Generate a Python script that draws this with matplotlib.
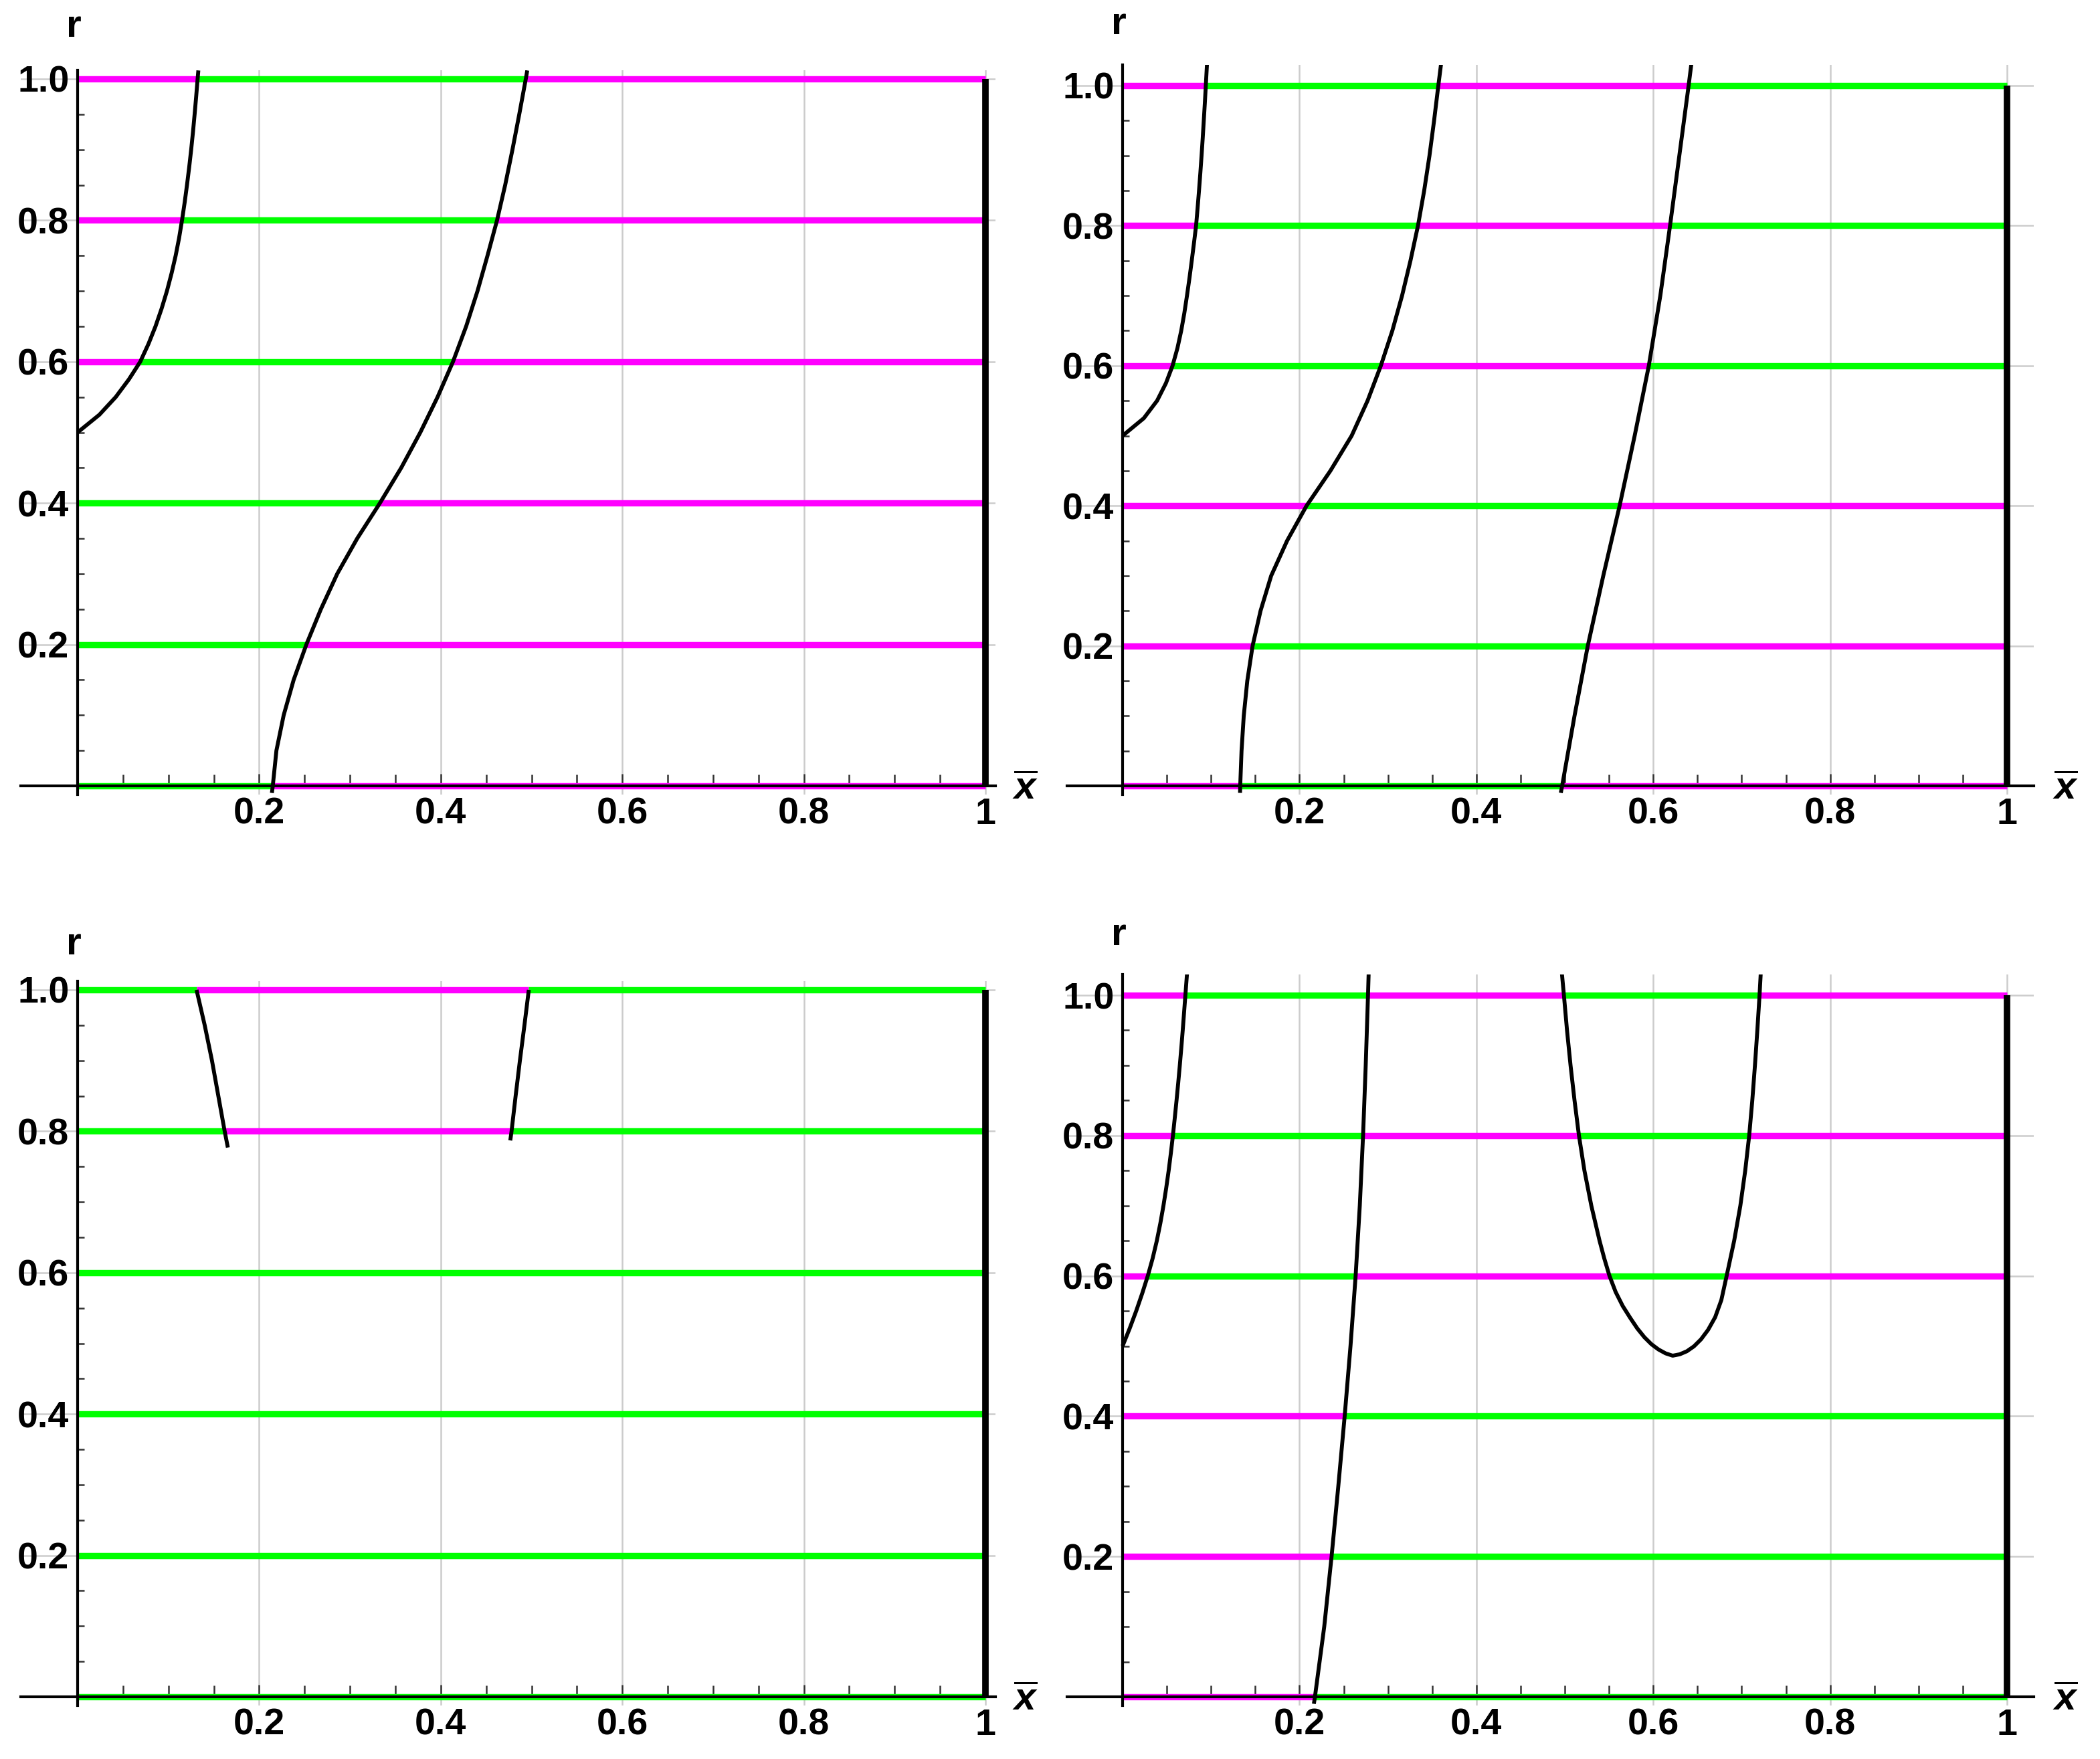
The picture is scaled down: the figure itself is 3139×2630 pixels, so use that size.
import numpy as np
import matplotlib
matplotlib.use("Agg")
import matplotlib.pyplot as plt
from matplotlib.ticker import FixedLocator

FONT = ['Liberation Sans', 'DejaVu Sans']
plt.rcParams['font.family'] = FONT
plt.rcParams['mathtext.fontset'] = 'custom'
plt.rcParams['mathtext.it'] = 'Liberation Sans:italic:bold'
plt.rcParams['mathtext.rm'] = 'Liberation Sans:bold'

MAGENTA = '#ff00ff'
GREEN = '#00ff00'
COLORS = {'m': MAGENTA, 'g': GREEN}

LEVELS = [0.0, 0.2, 0.4, 0.6, 0.8, 1.0]
X_TICKS = [0.2, 0.4, 0.6, 0.8, 1.0]
X_LABELS = ['0.2', '0.4', '0.6', '0.8', '1']
Y_TICKS = [0.2, 0.4, 0.6, 0.8, 1.0]
Y_LABELS = ['0.2', '0.4', '0.6', '0.8', '1.0']

# --- top left ---
TL_BREAKS = [[0.215], [0.252], [0.333], [0.069, 0.4135], [0.115, 0.462], [0.1322, 0.4937]]
TL_FIRST = ['g', 'g', 'g', 'm', 'm', 'm']
TL_C1_X = [0.0, 0.024, 0.042, 0.0565, 0.069, 0.078, 0.0858, 0.0925, 0.0984, 0.1035, 0.108,
           0.1118, 0.115, 0.1179, 0.1205, 0.1229, 0.1251, 0.1271, 0.1289, 0.1306, 0.1322, 0.133]
TL_C1_Y = [0.5, 0.525, 0.55, 0.575, 0.6, 0.625, 0.65, 0.675, 0.7, 0.725, 0.75,
           0.775, 0.8, 0.825, 0.85, 0.875, 0.9, 0.925, 0.95, 0.975, 1.0, 1.012]
TL_C2_X = [0.214, 0.215, 0.219, 0.227, 0.238, 0.252, 0.268, 0.286, 0.308, 0.333, 0.3565, 0.3775,
           0.3965, 0.4135, 0.428, 0.4405, 0.4515, 0.462, 0.471, 0.479, 0.4865, 0.4937, 0.4953]
TL_C2_Y = [-0.01, 0.0, 0.05, 0.1, 0.15, 0.2, 0.25, 0.3, 0.35, 0.4, 0.45, 0.5,
           0.55, 0.6, 0.65, 0.7, 0.75, 0.8, 0.85, 0.9, 0.95, 1.0, 1.012]

# --- top right ---
TR_BREAKS = [[0.133, 0.497], [0.147, 0.526], [0.208, 0.562], [0.0565, 0.292, 0.595],
             [0.0831, 0.334, 0.619], [0.0941, 0.357, 0.640]]
TR_FIRST = ['m', 'm', 'm', 'm', 'm', 'm']
TR_CA_X = [0.0, 0.024, 0.039, 0.049, 0.0565, 0.062, 0.0663, 0.0698, 0.0728, 0.0756, 0.0782,
           0.0807, 0.0831, 0.0848, 0.0864, 0.0879, 0.0893, 0.0906, 0.0918, 0.093, 0.0941, 0.0954]
TR_CA_Y = [0.5, 0.525, 0.55, 0.575, 0.6, 0.625, 0.65, 0.675, 0.7, 0.725, 0.75,
           0.775, 0.8, 0.825, 0.85, 0.875, 0.9, 0.925, 0.95, 0.975, 1.0, 1.03]
TR_CB_X = [0.1328, 0.133, 0.1345, 0.137, 0.141, 0.147, 0.156, 0.168, 0.186, 0.208, 0.235, 0.259,
           0.277, 0.292, 0.305, 0.316, 0.3255, 0.334, 0.341, 0.347, 0.3522, 0.357, 0.360]
TR_CB_Y = [-0.01, 0.0, 0.05, 0.1, 0.15, 0.2, 0.25, 0.3, 0.35, 0.4, 0.45, 0.5,
           0.55, 0.6, 0.65, 0.7, 0.75, 0.8, 0.85, 0.9, 0.95, 1.0, 1.03]
TR_CC_X = [0.4955, 0.497, 0.511, 0.526, 0.5435, 0.562, 0.579, 0.595, 0.608, 0.619, 0.6295, 0.640, 0.643]
TR_CC_Y = [-0.01, 0.0, 0.1, 0.2, 0.3, 0.4, 0.5, 0.6, 0.7, 0.8, 0.9, 1.0, 1.03]

# --- bottom left ---
BL_BREAKS = [[], [], [], [], [0.162, 0.478], [0.131, 0.497]]
BL_FIRST = ['g', 'g', 'g', 'g', 'g', 'g']
BL_C1_X = [0.131, 0.140, 0.148, 0.155, 0.162, 0.1655]
BL_C1_Y = [1.0, 0.95, 0.9, 0.85, 0.8, 0.777]
BL_C2_X = [0.497, 0.4922, 0.4872, 0.4825, 0.478, 0.4766]
BL_C2_Y = [1.0, 0.95, 0.9, 0.85, 0.8, 0.787]

# --- bottom right ---
BR_BREAKS = [[0.2175], [0.2363], [0.2511], [0.0285, 0.2635, 0.5505, 0.683],
             [0.0569, 0.2719, 0.516, 0.7085], [0.071, 0.2775, 0.499, 0.7202]]
BR_FIRST = ['m', 'm', 'm', 'm', 'm', 'm']
BR_CA_X = [0.0, 0.008, 0.0154, 0.0222, 0.0285, 0.034, 0.0387, 0.0427, 0.0462, 0.0493, 0.0521,
           0.0546, 0.0569, 0.059, 0.061, 0.0629, 0.0647, 0.0664, 0.068, 0.0695, 0.071, 0.0728]
BR_CA_Y = [0.5, 0.525, 0.55, 0.575, 0.6, 0.625, 0.65, 0.675, 0.7, 0.725, 0.75,
           0.775, 0.8, 0.825, 0.85, 0.875, 0.9, 0.925, 0.95, 0.975, 1.0, 1.03]
BR_CB_X = [0.2163, 0.2175, 0.228, 0.2363, 0.2439, 0.2511, 0.2577, 0.2635, 0.2682, 0.2719, 0.2749, 0.2775, 0.2782]
BR_CB_Y = [-0.01, 0.0, 0.1, 0.2, 0.3, 0.4, 0.5, 0.6, 0.7, 0.8, 0.9, 1.0, 1.03]
BR_CC_X = [0.4968, 0.499, 0.5025, 0.5065, 0.511, 0.516, 0.5222, 0.5300, 0.5393, 0.5446, 0.5505,
           0.5575, 0.5655, 0.574, 0.582, 0.590, 0.598, 0.606, 0.614, 0.622,
           0.630, 0.638, 0.646, 0.654, 0.662, 0.670, 0.677, 0.683,
           0.6915, 0.6985, 0.704, 0.7085, 0.712, 0.715, 0.7177, 0.7202, 0.7215]
BR_CC_Y = [1.03, 1.0, 0.95, 0.9, 0.85, 0.8, 0.75, 0.7, 0.65, 0.625, 0.6,
           0.577, 0.557, 0.540, 0.525, 0.5125, 0.5025, 0.495, 0.4895, 0.4862,
           0.4882, 0.4925, 0.4995, 0.5095, 0.523, 0.541, 0.5655, 0.6,
           0.65, 0.7, 0.75, 0.8, 0.85, 0.9, 0.95, 1.0, 1.03]

W, H = 3139, 2630
fig = plt.figure(figsize=(W / 100, H / 100), dpi=100)


def make_axes(ox, oy, sx, sy, xlim, ylim):
    left = ox + sx * xlim[0]
    right = ox + sx * xlim[1]
    top = oy - sy * ylim[1]
    bottom = oy - sy * ylim[0]
    ax = fig.add_axes([left / W, 1 - bottom / H, (right - left) / W, (bottom - top) / H])
    ax.set_xlim(*xlim)
    ax.set_ylim(*ylim)
    return ax


def draw_panel(ax, breaks, first, curves, r_y, xbar_x):
    ax.patch.set_visible(False)
    for s in ['top', 'right']:
        ax.spines[s].set_visible(False)
    ax.spines['left'].set_position(('data', 0))
    ax.spines['bottom'].set_position(('data', 0))
    for s in ['left', 'bottom']:
        ax.spines[s].set_linewidth(3.0)
        ax.spines[s].set_color('black')
        ax.spines[s].set_zorder(6)

    ax.xaxis.set_major_locator(FixedLocator(X_TICKS))
    ax.yaxis.set_major_locator(FixedLocator(Y_TICKS))
    minors = [v for v in np.arange(0.05, 1.0001, 0.05) if min(abs(v - t) for t in X_TICKS) > 1e-6]
    ax.xaxis.set_minor_locator(FixedLocator(minors))
    ax.yaxis.set_minor_locator(FixedLocator(minors))
    ax.set_xticklabels(X_LABELS)
    ax.set_yticklabels(Y_LABELS)
    ax.tick_params(axis='x', which='major', direction='in', length=13, width=1.8,
                   color='#333333', pad=12, labelsize=40)
    ax.tick_params(axis='x', which='minor', direction='in', length=12, width=1.8, color='#333333')
    ax.tick_params(axis='y', which='major', direction='in', length=13, width=1.8,
                   color='#333333', pad=9, labelsize=40)
    ax.tick_params(axis='y', which='minor', direction='in', length=7, width=1.8, color='#333333')
    for lab in ax.get_xticklabels() + ax.get_yticklabels():
        lab.set_fontweight('bold')

    ax.grid(True, which='major', color='#cccccc', lw=1.8, zorder=0)
    ax.set_axisbelow(True)

    for lev, br, c0 in zip(LEVELS, breaks, first):
        edges = [0.0] + list(br) + [1.0]
        col = c0
        for a, b in zip(edges[:-1], edges[1:]):
            ax.plot([a, b], [lev, lev], color=COLORS[col], lw=6.8,
                    solid_capstyle='butt', zorder=3)
            col = 'g' if col == 'm' else 'm'

    ax.plot([1.0, 1.0], [0.0, 1.0], color='black', lw=7, solid_capstyle='butt', zorder=4)

    for cx, cy in curves:
        ax.plot(cx, cy, color='black', lw=4.2, zorder=5, solid_capstyle='butt',
                solid_joinstyle='round')

    ax.text(-0.004, r_y, 'r', ha='center', va='center', fontsize=42, fontweight='bold',
            clip_on=False)
    ax.text(xbar_x, -0.005, r'$\overline{x}$', ha='center', va='center', fontsize=42,
            clip_on=False)


ax_tl = make_axes(116, 1175, 1357, 1057, (-0.063, 1.011), (-0.012, 1.012))
draw_panel(ax_tl, TL_BREAKS, TL_FIRST,
           [(TL_C1_X, TL_C1_Y), (TL_C2_X, TL_C2_Y)], 1.074, 1.044)

ax_tr = make_axes(1678, 1175, 1322, 1047, (-0.063, 1.03), (-0.012, 1.03))
draw_panel(ax_tr, TR_BREAKS, TR_FIRST,
           [(TR_CA_X, TR_CA_Y), (TR_CB_X, TR_CB_Y), (TR_CC_X, TR_CC_Y)], 1.088, 1.066)

ax_bl = make_axes(116, 2537, 1357, 1057, (-0.063, 1.011), (-0.012, 1.012))
draw_panel(ax_bl, BL_BREAKS, BL_FIRST,
           [(BL_C1_X, BL_C1_Y), (BL_C2_X, BL_C2_Y)], 1.064, 1.044)

ax_br = make_axes(1678, 2537, 1322, 1049, (-0.063, 1.03), (-0.012, 1.03))
draw_panel(ax_br, BR_BREAKS, BR_FIRST,
           [(BR_CA_X, BR_CA_Y), (BR_CB_X, BR_CB_Y), (BR_CC_X, BR_CC_Y)], 1.086, 1.066)

fig.savefig('out.png', dpi=100)
